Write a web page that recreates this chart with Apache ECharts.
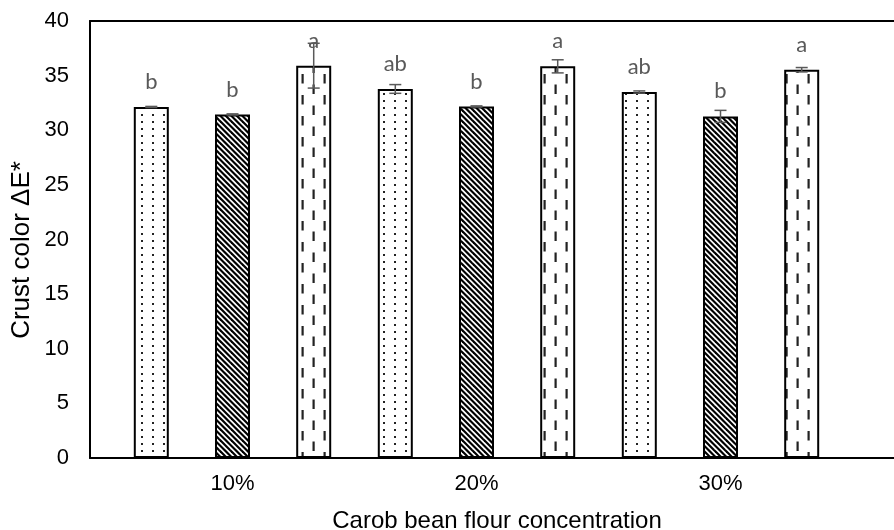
<!DOCTYPE html>
<html>
<head>
<meta charset="utf-8">
<script src="https://cdn.jsdelivr.net/npm/echarts@6/dist/echarts.min.js"></script>
<style>
  html, body { margin: 0; padding: 0; background: #fff; }
  #chart { width: 894px; height: 530px; }
</style>
</head>
<body>
<div id="chart"></div>
<script>
// ---- data ----
const categories = ['10%', '20%', '30%'];
const yTickMin = 0, yTickMax = 40, yTickStep = 5;

const dottedValues = [32.13, 33.78, 33.5];
const dottedErrors = [0.05, 0.4, 0.1];
const dottedLetters = ['b', 'ab', 'ab'];

const hatchedValues = [31.45, 32.18, 31.27];
const hatchedErrors = [0.05, 0.05, 0.55];
const hatchedLetters = ['b', 'b', 'b'];

const dashedValues = [35.91, 35.85, 35.54];
const dashedErrors = [2.05, 0.6, 0.2];
const dashedLetters = ['a', 'a', 'a'];

const xTitle = 'Carob bean flour concentration';
const yTitle = 'Crust color ΔE*';

// ---- patterns ----
function makeCanvas(w, h) {
  const c = document.createElement('canvas');
  c.width = w; c.height = h;
  const ctx = c.getContext('2d');
  ctx.fillStyle = '#fff';
  ctx.fillRect(0, 0, w, h);
  return [c, ctx];
}
function dotPattern() {
  const [c, ctx] = makeCanvas(11, 7);
  ctx.fillStyle = '#222';
  ctx.fillRect(9, 2, 2, 2);
  return c;
}
function hatchPattern() {
  const [c, ctx] = makeCanvas(11, 11);
  ctx.strokeStyle = '#000';
  ctx.lineWidth = 2.2;
  for (let k = -3; k <= 3; k++) {
    const o = k * 5.5;
    ctx.beginPath();
    ctx.moveTo(o - 2, -2);
    ctx.lineTo(o + 13, 13);
    ctx.stroke();
  }
  return c;
}
function dashPattern() {
  const [c, ctx] = makeCanvas(22, 21);
  ctx.fillStyle = '#222';
  ctx.fillRect(4.5, 0.5, 2.2, 9.5);
  ctx.fillRect(15.5, 11, 2.2, 9.5);
  return c;
}

const barWidth = 35;
const barGapRatio = 1.32;
const spacing = barWidth * (1 + barGapRatio);
const labelFont = { color: '#595959', fontFamily: 'Lato', fontSize: 22 };
const axisFont = 'Liberation Sans';

function barSeries(name, values, letters, pattern) {
  return {
    name: name,
    type: 'bar',
    xAxisIndex: 2,
    yAxisIndex: 1,
    barWidth: barWidth,
    barGap: (barGapRatio * 100) + '%',
    data: values,
    itemStyle: {
      color: { image: pattern, repeat: 'repeat' },
      borderColor: '#000',
      borderWidth: 2
    },
    label: {
      show: true,
      position: 'top',
      distance: 14,
      formatter: p => letters[p.dataIndex],
      ...labelFont
    },
    z: 2
  };
}

function errorData(values, errors, s) {
  return values.map((v, i) => [i, v, errors[i], s]);
}

const errorSeries = {
  type: 'custom',
  xAxisIndex: 2,
  yAxisIndex: 1,
  z: 5,
  encode: { x: 0, y: 1 },
  data: [].concat(
    errorData(dottedValues, dottedErrors, 0),
    errorData(hatchedValues, hatchedErrors, 1),
    errorData(dashedValues, dashedErrors, 2)
  ),
  renderItem: function (params, api) {
    const cat = api.value(0), val = api.value(1), err = api.value(2), s = api.value(3);
    const c = api.coord([cat, val]);
    const x = c[0] + (s - 1) * spacing;
    const yt = api.coord([cat, val + err])[1];
    const yb = api.coord([cat, val - err])[1];
    const hw = 6;
    const st = { stroke: '#595959', lineWidth: 1.5 };
    return {
      type: 'group',
      children: [
        { type: 'line', shape: { x1: x, y1: yt, x2: x, y2: yb }, style: st },
        { type: 'line', shape: { x1: x - hw, y1: yt, x2: x + hw, y2: yt }, style: st },
        { type: 'line', shape: { x1: x - hw, y1: yb, x2: x + hw, y2: yb }, style: st }
      ]
    };
  }
};

const chart = echarts.init(document.getElementById('chart'), null, { renderer: 'canvas' });
const gridTop = 21, gridBottom = 72;
chart.setOption({
  animation: false,
  backgroundColor: '#fff',
  grid: [
    { left: 90, top: gridTop, bottom: gridBottom, width: 812, containLabel: false },
    { left: 110.5, top: gridTop, bottom: gridBottom, width: 732, containLabel: false }
  ],
  xAxis: [
    { gridIndex: 0, type: 'value', min: 0, max: 1, position: 'bottom',
      axisLine: { show: true, onZero: false, lineStyle: { color: '#000', width: 2 } },
      axisTick: { show: false }, axisLabel: { show: false }, splitLine: { show: false } },
    { gridIndex: 0, type: 'value', min: 0, max: 1, position: 'top',
      axisLine: { show: true, onZero: false, lineStyle: { color: '#000', width: 2 } },
      axisTick: { show: false }, axisLabel: { show: false }, splitLine: { show: false } },
    { gridIndex: 1, type: 'category', data: categories,
      axisLine: { show: false }, axisTick: { show: false }, splitLine: { show: false },
      axisLabel: { color: '#000', fontFamily: axisFont, fontSize: 22, margin: 15 } }
  ],
  yAxis: [
    { gridIndex: 0, type: 'value', min: yTickMin, max: yTickMax, interval: yTickStep,
      axisLine: { show: true, lineStyle: { color: '#000', width: 2 } },
      axisTick: { show: false }, splitLine: { show: false },
      axisLabel: { color: '#000', fontFamily: axisFont, fontSize: 22, margin: 21 } },
    { gridIndex: 1, type: 'value', min: yTickMin, max: yTickMax, interval: yTickStep,
      show: false, splitLine: { show: false } }
  ],
  graphic: [
    { type: 'text', x: 497, y: 521,
      style: { text: xTitle, fontFamily: axisFont, fontSize: 24, fill: '#000', align: 'center', verticalAlign: 'middle' } },
    { type: 'text', x: 22, y: 250, rotation: Math.PI / 2,
      style: { text: yTitle, fontFamily: axisFont, fontSize: 26, fill: '#000', align: 'center', verticalAlign: 'middle' } }
  ],
  series: [
    barSeries('Series 1', dottedValues, dottedLetters, dotPattern()),
    barSeries('Series 2', hatchedValues, hatchedLetters, hatchPattern()),
    barSeries('Series 3', dashedValues, dashedLetters, dashPattern()),
    errorSeries
  ]
});
</script>
</body>
</html>
